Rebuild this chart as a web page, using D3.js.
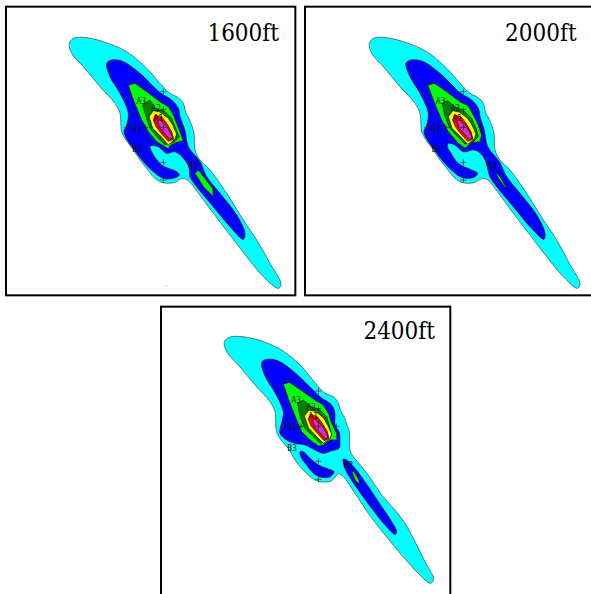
<!DOCTYPE html>
<html>
<head>
<meta charset="utf-8">
<script src="https://cdn.jsdelivr.net/npm/d3@7"></script>
<style>
html,body{margin:0;padding:0;background:#fff;overflow:hidden}
svg{display:block}
</style>
</head>
<body>
<div id="svg"></div>
<script>
// contour outlines in map units (3 units = 1 px)
var titles=["1600ft","2000ft","2400ft"];
var levelColors=["#00ffff","#0000ff","#00ff00","#007f00","#ffff00","#ff0000","#cc33cc"];
var stationLabels=["A3","A2","A1","B1","B3","B2"];

var cyan1=[[208,130],[220,115],[250,112],[310,125],[380,155],[440,205],[480,250],[510,280],[535,293],[550,310],[557,338],[568,358],[582,400],[585,450],[600,480],[630,510],[680,580],[730,660],[770,720],[810,790],[843,852],[835,865],[790,830],[740,770],[690,705],[640,640],[590,572],[568,545],[548,535],[525,547],[505,550],[480,545],[460,530],[440,505],[420,480],[400,450],[378,420],[365,395],[363,380],[360,340],[345,310],[300,260],[250,200],[215,160]];
var blue1=[[320,190],[335,180],[370,185],[420,220],[480,278],[515,300],[535,325],[540,350],[555,392],[565,440],[600,485],[620,530],[660,580],[710,645],[735,700],[730,718],[690,680],[640,620],[590,560],[570,530],[568,505],[550,475],[525,455],[500,460],[475,440],[450,438],[455,455],[485,495],[530,515],[538,525],[520,535],[490,535],[460,515],[430,485],[400,445],[382,420],[372,395],[380,375],[385,340],[360,280],[330,230]];
var green1=[[385,255],[405,250],[440,275],[480,305],[505,320],[520,345],[532,375],[542,400],[550,422],[530,427],[510,437],[505,447],[470,425],[445,395],[425,360],[400,300]];
var dark1=[[428,315],[450,300],[465,325],[495,335],[515,355],[527,385],[538,410],[522,427],[495,434],[475,415],[450,385],[438,350]];
var yellow1=[[447,350],[460,332],[480,336],[505,355],[518,375],[530,402],[525,418],[505,435],[485,412],[458,385]];
var red1=[[460,360],[465,345],[485,350],[500,370],[515,395],[521,418],[505,424],[485,402],[468,380]];
var magenta1=[[473,365],[478,358],[500,378],[515,405],[518,415],[510,418],[495,402],[480,385]];
var small1=[[585,520],[595,510],[638,565],[640,590],[610,560]];
var crosses1=[[490,275],[490,328],[382,382],[436,382],[490,382],[544,382],[490,487],[490,540]];
var labels1=[[424,302],[468,325],[475,353],[411,387],[411,447],[580,497]];

var cyan2=[[208,130],[220,115],[250,112],[310,125],[380,155],[440,205],[480,250],[510,280],[535,293],[550,310],[557,338],[568,358],[582,400],[585,450],[600,480],[630,510],[680,580],[730,660],[770,720],[808,790],[840,852],[832,865],[790,830],[740,770],[690,705],[640,640],[590,572],[566,542],[548,535],[525,547],[505,550],[480,545],[460,530],[440,505],[420,480],[400,450],[378,420],[365,395],[363,380],[360,340],[345,310],[300,260],[250,200],[215,160]];
var blue2=[[318,190],[333,180],[370,185],[420,220],[480,278],[515,300],[535,325],[540,350],[553,392],[563,440],[598,485],[620,530],[660,580],[710,645],[735,700],[732,718],[690,680],[640,620],[590,560],[570,530],[560,495],[550,470],[525,450],[490,455],[465,435],[445,430],[442,440],[450,455],[475,490],[510,508],[533,520],[525,530],[505,535],[480,530],[460,515],[430,485],[400,445],[382,420],[372,395],[380,375],[385,340],[360,280],[330,230]];
var green2=[[383,255],[403,250],[440,275],[480,305],[505,318],[520,345],[535,375],[545,405],[540,425],[515,428],[495,445],[475,430],[445,395],[425,360],[400,300]];
var dark2=[[427,310],[443,302],[465,320],[495,335],[515,355],[528,385],[535,410],[520,425],[495,432],[475,412],[450,385],[435,350]];
var yellow2=[[445,350],[458,332],[478,336],[503,355],[516,375],[528,402],[523,418],[503,433],[483,412],[456,385]];
var red2=[[458,360],[463,345],[483,350],[498,370],[513,395],[519,418],[503,424],[483,402],[466,380]];
var magenta2=[[471,365],[476,358],[498,378],[513,405],[516,415],[508,418],[493,402],[478,385]];
var small2=[[587,515],[600,530],[625,572],[610,555],[595,535]];
var crosses2=[[490,275],[490,328],[382,382],[438,382],[490,382],[544,382],[490,487],[490,540]];
var labels2=[[422,302],[466,325],[472,353],[408,387],[410,447],[577,497]];

var cyan3=[[208,127],[220,113],[250,109],[310,120],[380,150],[440,200],[480,248],[510,280],[535,290],[550,310],[558,335],[568,352],[575,372],[583,395],[585,450],[595,470],[620,500],[650,540],[680,585],[720,630],[750,670],[775,715],[810,785],[836,838],[826,850],[790,820],[740,765],[690,705],[640,640],[600,580],[565,530],[550,522],[530,542],[505,546],[480,540],[460,525],[440,505],[420,480],[400,445],[378,420],[365,395],[362,365],[360,335],[345,305],[300,255],[250,195],[215,155]];
var blue3=[[320,188],[335,178],[370,183],[420,218],[480,276],[505,298],[525,310],[537,328],[540,350],[540,375],[552,395],[555,425],[552,445],[530,452],[505,460],[480,450],[450,435],[420,430],[395,420],[375,400],[382,360],[385,335],[360,278],[330,228]];
var lobe3=[[435,455],[445,455],[465,475],[490,495],[520,507],[537,515],[525,530],[500,532],[475,520],[455,495],[440,475]];
var right3=[[565,477],[578,482],[600,505],[640,560],[680,620],[710,665],[725,695],[720,703],[690,675],[650,625],[610,570],[580,525],[568,500]];
var green3=[[385,252],[403,247],[440,272],[480,300],[505,315],[520,340],[530,370],[545,400],[546,420],[525,420],[505,435],[490,438],[465,420],[440,395],[425,360],[400,297]];
var dark3=[[428,310],[445,300],[465,318],[495,330],[515,350],[525,385],[530,405],[520,420],[495,430],[475,410],[450,385],[435,350]];
var yellow3=[[448,348],[462,330],[482,334],[505,353],[518,375],[530,402],[525,416],[505,430],[485,410],[460,383]];
var red3=[[460,358],[466,343],[487,350],[502,370],[517,395],[522,416],[507,422],[487,400],[468,378]];
var magenta3=[[473,363],[479,357],[502,378],[517,405],[518,413],[510,416],[497,400],[480,383]];
var small3=[[590,512],[598,515],[612,540],[613,553],[600,540]];
var crosses3=[[490,273],[490,326],[384,379],[438,379],[490,379],[544,379],[490,484],[490,538]];
var labels3=[[424,299],[468,321],[475,349],[411,382],[411,444],[580,494]];

var panels=[
  {title:titles[0],ox:0,oy:0,box:[18,20,886,886],titleAt:[837,122],
   layers:[[cyan1,0],[blue1,1],[green1,2],[small1,2],[dark1,3],[yellow1,4],[red1,5],[magenta1,6]],crosses:crosses1,labels:labels1},
  {title:titles[1],ox:300,oy:0,box:[15,20,883,886],titleAt:[830,122],
   layers:[[cyan2,0],[blue2,1],[green2,2],[small2,2],[dark2,3],[yellow2,4],[red2,5],[magenta2,6]],crosses:crosses2,labels:labels2},
  {title:titles[2],ox:155,oy:300,box:[18,20,886,886],titleAt:[840,118],
   layers:[[cyan3,0],[blue3,1],[lobe3,1],[right3,1],[green3,2],[small3,2],[dark3,3],[yellow3,4],[red3,5],[magenta3,6]],crosses:crosses3,labels:labels3}
];

var width=591,height=594;
var svg=d3.select("#svg").append("svg").attr("width",width).attr("height",height);
svg.append("rect").attr("width",width).attr("height",height).attr("fill","#fff");

function drawPanel(p){
  var x=d3.scaleLinear().domain([0,900]).range([p.ox,p.ox+300]);
  var y=d3.scaleLinear().domain([0,900]).range([p.oy,p.oy+300]);
  var g=svg.append("g");

  g.append("rect")
  .attr("x",x(p.box[0])).attr("y",y(p.box[1]))
  .attr("width",x(p.box[2])-x(p.box[0])).attr("height",y(p.box[3])-y(p.box[1]))
  .attr("fill","#fff").attr("stroke","#000").attr("stroke-width",2);

  var smooth=d3.line().x(d=>x(d[0])).y(d=>y(d[1])).curve(d3.curveCatmullRomClosed.alpha(0.5));
  var sharp=d3.line().x(d=>x(d[0])).y(d=>y(d[1])).curve(d3.curveLinearClosed);

  g.selectAll("path.level").data(p.layers).enter().append("path")
  .attr("class","level")
  .attr("d",d=>d[1]<2?smooth(d[0]):sharp(d[0]))
  .attr("fill",d=>levelColors[d[1]])
  .attr("stroke",d=>d[1]==0?"#444":"#111")
  .attr("stroke-width",0.7)
  .attr("stroke-linejoin","round");

  var crossSize=9;
  var c=g.selectAll("g.cross").data(p.crosses).enter().append("g").attr("class","cross");
  c.append("line")
  .attr("x1",d=>x(d[0]-crossSize)).attr("x2",d=>x(d[0]+crossSize))
  .attr("y1",d=>y(d[1])).attr("y2",d=>y(d[1]));
  c.append("line")
  .attr("x1",d=>x(d[0])).attr("x2",d=>x(d[0]))
  .attr("y1",d=>y(d[1]-crossSize)).attr("y2",d=>y(d[1]+crossSize));
  c.selectAll("line").attr("stroke","#222").attr("stroke-width",0.7);

  g.selectAll("text.station").data(p.labels).enter().append("text")
  .attr("class","station")
  .attr("x",d=>x(d[0])).attr("y",d=>y(d[1])+3)
  .attr("text-anchor","middle")
  .attr("font-family","DejaVu Sans Mono")
  .attr("font-size","8px")
  .attr("fill","#111")
  .text((d,i)=>stationLabels[i]);

  g.append("text")
  .attr("x",x(p.titleAt[0])).attr("y",y(p.titleAt[1]))
  .attr("text-anchor","end")
  .attr("font-family","DejaVu Serif Condensed, DejaVu Serif")
  .attr("font-stretch","condensed")
  .attr("font-size","24px")
  .attr("fill","#000")
  .text(p.title);
}

panels.forEach(drawPanel);

// stray speck at the bottom of the first panel
var speck=[[499,858]];
svg.selectAll("circle.speck").data(speck).enter().append("circle")
.attr("class","speck")
.attr("cx",d=>d3.scaleLinear().domain([0,900]).range([0,300])(d[0]))
.attr("cy",d=>d3.scaleLinear().domain([0,900]).range([0,300])(d[1]))
.attr("r",0.6).attr("fill","#999");
</script>
</body>
</html>
